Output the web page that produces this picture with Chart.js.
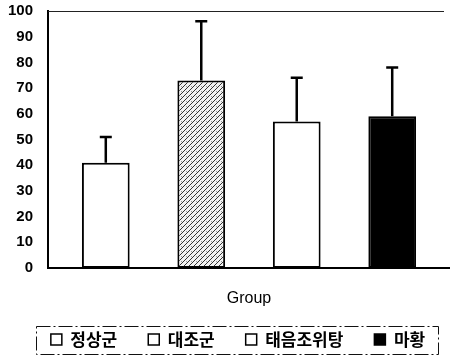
<!DOCTYPE html>
<html>
<head>
<meta charset="utf-8">
<script src="https://cdn.jsdelivr.net/npm/chart.js@4"></script>
<style>
  html, body { margin: 0; padding: 0; background: #fff; }
  #wrap { width: 450px; height: 357px; }
</style>
</head>
<body>
<div id="wrap"><canvas id="barChart" width="450" height="357"></canvas></div>
<script>
const categories = ['Group'];
const groups = ['정상군', '대조군', '태음조위탕', '마황'];
const means = [41, 73, 57, 59];
const errors = [10, 23, 17, 19];
const yTicks = { min: 0, max: 100, step: 10 };

// diagonal hatch used for the control group bar
function makeHatch() {
    const c = document.createElement('canvas');
    c.width = 5;
    c.height = 5;
    const g = c.getContext('2d');
    g.fillStyle = '#f2f2f2';
    g.fillRect(0, 0, 5, 5);
    g.strokeStyle = '#333';
    g.lineWidth = 1;
    g.beginPath();
    g.moveTo(0, 5); g.lineTo(5, 0);
    g.moveTo(-1, 1); g.lineTo(1, -1);
    g.moveTo(4, 6); g.lineTo(6, 4);
    g.stroke();
    g.fillStyle = '#999';
    g.fillRect(1, 1, 1, 1);
    return g.createPattern(c, 'repeat');
}

const fills = ['#ffffff', makeHatch(), '#ffffff', '#000000'];
const legendFills = ['#ffffff', '#ffffff', '#ffffff', '#000000'];
const legendShift = 13;

const errorBars = {
    id: 'errorBars',
    afterDatasetsDraw(chart) {
        const ctx = chart.ctx;
        const y = chart.scales.y;
        ctx.save();
        ctx.strokeStyle = '#000';
        ctx.lineWidth = 2.5;
        chart.data.datasets.forEach((ds, i) => {
            const bar = chart.getDatasetMeta(i).data[0];
            const top = y.getPixelForValue(means[i] + errors[i]);
            ctx.beginPath();
            ctx.moveTo(bar.x, bar.y);
            ctx.lineTo(bar.x, top);
            ctx.moveTo(bar.x - 6, top);
            ctx.lineTo(bar.x + 6, top);
            ctx.stroke();
        });
        ctx.restore();
    }
};

const frame = {
    id: 'frame',
    afterLayout(chart) {
        // the legend sits a little right of centre in the original
        const lg = chart.legend;
        lg.left += legendShift;
        lg.right += legendShift;
    },
    afterDraw(chart) {
        const ctx = chart.ctx;
        const a = chart.chartArea;
        ctx.save();
        ctx.strokeStyle = '#222';
        ctx.lineWidth = 1.2;
        ctx.beginPath();
        ctx.moveTo(a.left, a.top + 0.5);
        ctx.lineTo(a.right - 6, a.top + 0.5);
        ctx.stroke();

        // dashed box round the legend (hit boxes already follow the drawn items)
        const boxes = chart.legend.legendHitBoxes;
        if (boxes && boxes.length) {
            const l = Math.min(...boxes.map(b => b.left)) - 15;
            const r = Math.max(...boxes.map(b => b.left + b.width)) + 13;
            const mid = boxes[0].top + boxes[0].height / 2;
            ctx.strokeStyle = '#111';
            ctx.lineWidth = 1;
            ctx.setLineDash([14, 3, 2, 3]);
            ctx.strokeRect(Math.round(l) + 0.5, Math.round(mid - 14) + 0.5, Math.round(r - l), 28);
        }
        ctx.restore();
    }
};

const datasets = groups.map((name, i) => ({
    label: name,
    data: [means[i]],
    backgroundColor: fills[i],
    borderColor: '#000',
    borderWidth: 2,
    borderSkipped: false,
    categoryPercentage: 0.95,
    barPercentage: 0.5
}));

new Chart(document.getElementById('barChart').getContext('2d'), {
    type: 'bar',
    data: { labels: categories, datasets: datasets },
    plugins: [errorBars, frame],
    options: {
        responsive: false,
        animation: false,
        layout: { padding: { top: 0, right: 0, left: 0, bottom: 0 } },
        plugins: {
            tooltip: { enabled: false },
            legend: {
                position: 'bottom',
                maxHeight: 57,
                labels: {
                    color: '#000',
                    font: { family: '"Noto Sans CJK KR"', size: 17, weight: 'bold' },
                    boxWidth: 11,
                    boxHeight: 11,
                    padding: 31,
                    generateLabels(chart) {
                        return chart.data.datasets.map((ds, i) => ({
                            text: ds.label,
                            fillStyle: legendFills[i],
                            strokeStyle: '#000',
                            lineWidth: 1.5,
                            fontColor: '#000',
                            datasetIndex: i
                        }));
                    }
                }
            }
        },
        scales: {
            x: {
                grid: { display: false, drawTicks: false },
                border: { color: '#000', width: 2 },
                ticks: { display: false },
                title: {
                    display: true,
                    text: categories[0],
                    color: '#000',
                    padding: { top: 0, bottom: -8 },
                    font: { family: '"Liberation Sans"', size: 16 }
                },
                afterFit(scale) { scale.height = 32; }
            },
            y: {
                min: yTicks.min,
                max: yTicks.max,
                grid: { display: false, tickLength: 13 },
                border: { color: '#000', width: 2 },
                ticks: {
                    stepSize: yTicks.step,
                    color: '#000',
                    padding: 2,
                    font: { family: '"Liberation Sans"', size: 15, weight: 'bold' }
                },
                afterFit(scale) { scale.width = 48; }
            }
        }
    }
});
</script>
</body>
</html>
